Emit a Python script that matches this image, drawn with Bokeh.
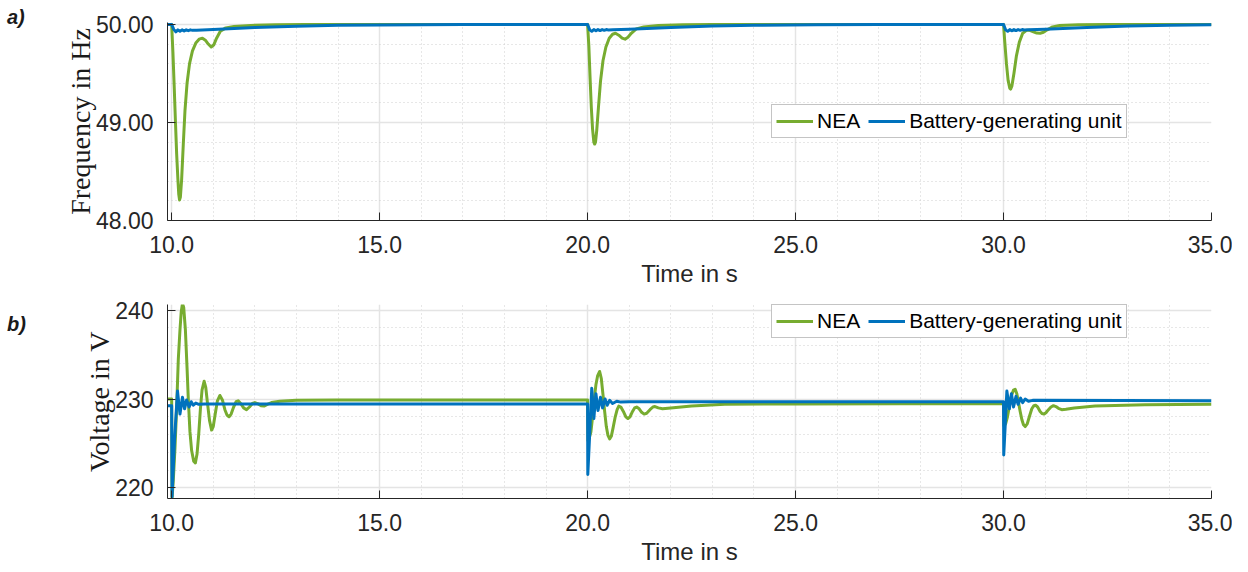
from bokeh.plotting import figure
from bokeh.layouts import column, row
from bokeh.models import (Range1d, SingleIntervalTicker, NumeralTickFormatter,
                          Legend, LegendItem, Div)
from bokeh.embed import file_html
from bokeh.resources import INLINE

# ---------------- data ----------------
# a) frequency, NEA
t_f_nea = [9.9, 10.0, 10.03, 10.06, 10.09, 10.12, 10.15, 10.17, 10.19, 10.21, 10.24, 10.28,
           10.32, 10.37, 10.43, 10.5, 10.58, 10.66, 10.74, 10.81, 10.88, 10.95, 11.01, 11.08,
           11.17, 11.3, 11.5, 11.9, 12.5, 13.2,
           20.0, 20.03, 20.06, 20.09, 20.12, 20.15, 20.17, 20.19, 20.22, 20.26, 20.31, 20.37,
           20.44, 20.52, 20.6, 20.67, 20.75, 20.83, 20.9, 20.97, 21.05, 21.17, 21.35, 21.7,
           22.3, 23.0,
           30.0, 30.03, 30.07, 30.11, 30.15, 30.17, 30.2, 30.25, 30.31, 30.38, 30.46, 30.55,
           30.63, 30.72, 30.8, 30.88, 30.96, 31.05, 31.18, 31.35, 31.8, 32.5, 35.0]
f_nea = [50.0, 50.0, 49.72, 49.38, 49.02, 48.68, 48.42, 48.27, 48.21, 48.24, 48.42, 48.78,
         49.12, 49.4, 49.6, 49.73, 49.81, 49.85, 49.86, 49.84, 49.8, 49.77, 49.79, 49.86,
         49.93, 49.965, 49.98, 49.99, 49.997, 50.0,
         50.0, 49.78, 49.45, 49.15, 48.93, 48.8, 48.78, 48.8, 48.92, 49.15, 49.42, 49.63,
         49.77, 49.86, 49.9, 49.91, 49.89, 49.86, 49.85, 49.87, 49.91, 49.955, 49.975, 49.99,
         49.998, 50.0,
         50.0, 49.82, 49.6, 49.43, 49.35, 49.34, 49.37, 49.5, 49.68, 49.82, 49.91, 49.94,
         49.94, 49.925, 49.912, 49.91, 49.92, 49.945, 49.975, 49.99, 49.997, 50.0, 50.0]

# a) frequency, battery-generating unit
t_f_bat = [9.9, 10.0, 10.05, 10.1, 10.15, 10.2, 10.25, 10.3, 10.35, 10.4, 10.45, 10.5,
           10.6, 11.0, 11.5, 12.0, 13.0, 14.0, 15.0, 17.0,
           20.0, 20.05, 20.1, 20.15, 20.2, 20.25, 20.3, 20.35, 20.4, 20.45, 20.5,
           20.6, 21.0, 22.0, 23.0, 24.0, 25.5, 27.0,
           30.0, 30.05, 30.1, 30.15, 30.2, 30.25, 30.3, 30.35, 30.4, 30.45, 30.5,
           30.6, 31.0, 32.0, 33.0, 34.0, 35.0]
f_bat = [50.0, 50.0, 49.95, 49.925, 49.945, 49.93, 49.945, 49.933, 49.945, 49.937, 49.945, 49.94,
         49.942, 49.948, 49.96, 49.97, 49.983, 49.991, 49.995, 49.999,
         50.0, 49.945, 49.93, 49.948, 49.935, 49.948, 49.938, 49.948, 49.94, 49.948, 49.944,
         49.946, 49.952, 49.97, 49.985, 49.992, 49.997, 50.0,
         50.0, 49.945, 49.93, 49.948, 49.935, 49.948, 49.938, 49.948, 49.94, 49.948, 49.944,
         49.946, 49.952, 49.97, 49.985, 49.992, 49.996]

# b) voltage, NEA
t_v_nea = [9.9, 10.0, 10.01, 10.04, 10.08, 10.12, 10.16, 10.2, 10.23, 10.26, 10.29, 10.33,
           10.37, 10.4, 10.44, 10.48, 10.53, 10.57, 10.61, 10.65, 10.69, 10.73, 10.78, 10.82,
           10.86, 10.91, 10.96, 11.0, 11.05, 11.1, 11.16, 11.22, 11.28, 11.33, 11.38, 11.43,
           11.49, 11.55, 11.6, 11.66, 11.73, 11.8, 11.87, 11.94, 12.0, 12.08, 12.15, 12.22,
           12.3, 12.4, 12.6, 13.0, 14.0,
           20.0, 20.01, 20.05, 20.08, 20.12, 20.16, 20.2, 20.24, 20.29, 20.33, 20.37, 20.41,
           20.45, 20.49, 20.53, 20.57, 20.61, 20.66, 20.71, 20.75, 20.8, 20.86, 20.92, 20.97,
           21.02, 21.08, 21.13, 21.18, 21.24, 21.3, 21.36, 21.42, 21.5, 21.57, 21.62, 21.7,
           21.8, 22.0, 22.5, 23.3, 25.0,
           30.0, 30.01, 30.05, 30.09, 30.14, 30.19, 30.24, 30.28, 30.32, 30.36, 30.4, 30.44,
           30.48, 30.52, 30.57, 30.62, 30.68, 30.73, 30.77, 30.82, 30.88, 30.93, 30.97, 31.02,
           31.08, 31.14, 31.2, 31.26, 31.32, 31.4, 31.5, 31.7, 32.2, 33.4, 35.0]
v_nea = [230.0, 230.0, 218.9, 220.9, 224.5, 229.0, 234.5, 237.8, 239.8, 240.75, 240.3, 237.8,
         233.5, 230.0, 226.3, 224.2, 223.0, 222.8, 223.8, 226.0, 228.8, 231.0, 232.0, 231.3,
         229.6, 227.6, 226.5, 226.9, 228.4, 229.8, 230.4, 229.9, 228.8, 228.2, 228.0, 228.3,
         229.1, 229.7, 229.8, 229.5, 229.0, 228.8, 229.1, 229.5, 229.6, 229.45, 229.25, 229.2,
         229.4, 229.6, 229.75, 229.85, 229.9,
         229.9, 225.3, 225.8, 226.3, 228.0, 230.0, 231.6, 232.6, 233.1, 232.3, 230.5, 228.6,
         226.9, 225.9, 225.5, 225.8, 226.7, 227.9, 228.8, 229.2, 229.1, 228.6, 228.0, 227.8,
         228.0, 228.6, 229.0, 229.1, 228.9, 228.5, 228.3, 228.4, 228.8, 229.1, 229.15, 229.0,
         228.9, 229.0, 229.2, 229.4, 229.45,
         229.5, 227.0, 227.2, 227.9, 229.2, 230.4, 231.0, 231.1, 230.6, 229.6, 228.6, 227.7,
         227.1, 226.9, 227.2, 228.0, 228.9, 229.25, 229.3, 229.1, 228.6, 228.35, 228.3, 228.45,
         228.8, 229.1, 229.25, 229.15, 228.95, 228.8, 228.85, 229.0, 229.2, 229.35, 229.4]

# b) voltage, battery-generating unit
t_v_bat = [9.9, 10.0, 10.01, 10.07, 10.14, 10.2, 10.26, 10.31, 10.36, 10.42, 10.47, 10.52,
           10.58, 10.65, 10.8,
           20.0, 20.005, 20.05, 20.1, 20.15, 20.2, 20.25, 20.31, 20.36, 20.42, 20.47,
           20.53, 20.6, 20.7, 20.8, 21.0,
           30.0, 30.005, 30.04, 30.08, 30.14, 30.19, 30.24, 30.3, 30.35, 30.41, 30.46,
           30.52, 30.6, 30.7, 35.0]
v_bat = [229.25, 229.25, 219.0, 225.5, 230.9, 228.3, 230.2, 228.9, 229.9, 229.1, 229.7, 229.3,
         229.55, 229.4, 229.45,
         229.45, 221.5, 226.0, 231.2, 227.8, 230.6, 228.7, 230.2, 229.0, 230.0, 229.3,
         229.85, 229.5, 229.75, 229.65, 229.7,
         229.7, 223.7, 227.0, 230.9, 228.9, 230.6, 229.1, 230.3, 229.4, 230.1, 229.6,
         230.0, 229.75, 229.85, 229.8]

labels = ["NEA", "Battery-generating unit"]
panel_tags = ["a)", "b)"]
x_title = "Time in s"
y_titles = ["Frequency in Hz", "Voltage in V"]

GREEN = "#77AC30"
BLUE = "#0072BD"
SANS = "Liberation Sans"
SERIF = "Liberation Serif"
TXT = "#262626"

FULLW = 1232
TAGW = 40                 # strip carrying the panel tag
W = FULLW - TAGW
BL, BR = 127, 21
X0, X1 = 9.9, 35.0
BT1, FH1, BB1 = 22, 198, 72
BT2, FH2, BB2 = 12, 194, 72
H1 = BT1 + FH1 + BB1
H2 = BT2 + FH2 + BB2


def style(p, ylabel, y_interval, y_fmt):
    p.outline_line_color = None
    p.background_fill_color = "white"
    p.border_fill_color = "white"
    xt = SingleIntervalTicker(interval=5, num_minor_ticks=5)
    yt = SingleIntervalTicker(interval=y_interval, num_minor_ticks=5)
    p.xaxis.ticker = xt
    p.yaxis.ticker = yt
    p.xgrid.ticker = xt
    p.ygrid.ticker = yt
    p.xaxis.formatter = NumeralTickFormatter(format="0.0")
    p.yaxis.formatter = NumeralTickFormatter(format=y_fmt)
    for ax in (p.xaxis[0], p.yaxis[0]):
        ax.axis_line_color = TXT
        ax.axis_line_width = 1
        ax.major_tick_in = 8
        ax.major_tick_out = 0
        ax.major_tick_line_color = TXT
        ax.minor_tick_line_color = None
        ax.major_label_text_font = SANS
        ax.major_label_text_font_size = "23px"
        ax.major_label_text_color = TXT
        ax.axis_label_text_font_style = "normal"
    p.xaxis.axis_label = x_title
    p.xaxis.axis_label_text_font = SANS
    p.xaxis.axis_label_text_font_size = "24px"
    p.xaxis.axis_label_text_color = TXT
    p.xaxis.major_label_standoff = 11
    p.xaxis.axis_label_standoff = 4
    p.yaxis.axis_label = ylabel
    p.yaxis.axis_label_text_font = SERIF
    p.yaxis.axis_label_text_font_size = "28px"
    p.yaxis.axis_label_text_color = "#1a1a1a"
    p.yaxis.major_label_standoff = 10
    p.yaxis.axis_label_standoff = -3
    for g in (p.xgrid[0], p.ygrid[0]):
        g.grid_line_color = "#e4e4e4"
        g.grid_line_width = 1.5
        g.minor_grid_line_color = "#cfcfcf"
        g.minor_grid_line_dash = "1 3"
        g.minor_grid_line_width = 1


def add_legend(p, r1, r2, loc):
    leg = Legend(items=[LegendItem(label=labels[0], renderers=[r1]),
                        LegendItem(label=labels[1], renderers=[r2])],
                 orientation="horizontal", location=loc,
                 label_text_font=SANS, label_text_font_size="21px", label_text_color="#000000",
                 border_line_color="#8a8a8a", border_line_width=1.5,
                 background_fill_color="white", background_fill_alpha=1.0,
                 padding=4, spacing=8, label_standoff=4, glyph_width=37, glyph_height=20,
                 label_height=20, margin=0)
    p.add_layout(leg)


def tag_div(text, height, top):
    html = ('<div style="position:relative; left:7px; top:%dpx; font-family:\'%s\'; '
            'font-size:20px; line-height:20px; font-weight:bold; font-style:italic; '
            'color:#1a1a1a; white-space:nowrap;">%s</div>' % (top, SANS, text))
    return Div(text=html, width=TAGW, height=height, margin=0)


# ---------- a) frequency ----------
p1 = figure(width=W, height=H1, x_range=Range1d(X0, X1), y_range=Range1d(48.0, 50.02),
            output_backend="svg", toolbar_location=None, title=None,
            min_border_left=BL, min_border_right=BR, min_border_top=BT1, min_border_bottom=BB1)
style(p1, y_titles[0], 1, "0.00")
g1 = p1.line(t_f_nea, f_nea, line_color=GREEN, line_width=3, line_join="round")
b1 = p1.line(t_f_bat, f_bat, line_color=BLUE, line_width=3, line_join="round")
add_legend(p1, g1, b1, (604, 82))

# ---------- b) voltage ----------
p2 = figure(width=W, height=H2, x_range=Range1d(X0, X1), y_range=Range1d(218.8, 240.64),
            output_backend="svg", toolbar_location=None, title=None,
            min_border_left=BL, min_border_right=BR, min_border_top=BT2, min_border_bottom=BB2)
style(p2, y_titles[1], 10, "0")
g2 = p2.line(t_v_nea, v_nea, line_color=GREEN, line_width=3, line_join="round")
b2 = p2.line(t_v_bat, v_bat, line_color=BLUE, line_width=3, line_join="round")
add_legend(p2, g2, b2, (604, 160))

tag1 = tag_div(panel_tags[0], H1, 7)
tag2 = tag_div(panel_tags[1], H2, 22)

layout = column(row(tag1, p1, spacing=0), row(tag2, p2, spacing=0), spacing=0)
open("out.html", "w").write(file_html(layout, INLINE))
